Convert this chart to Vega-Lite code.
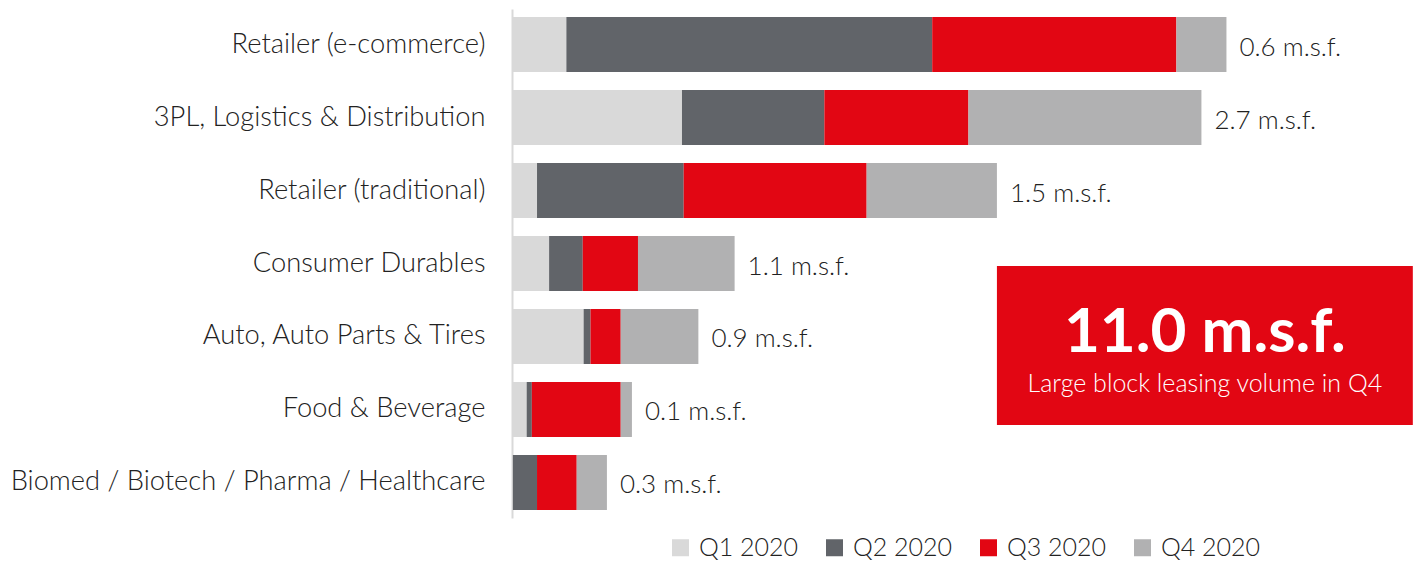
{
  "$schema": "https://vega.github.io/schema/vega-lite/v6.json",
  "width": 906,
  "height": 509,
  "padding": {"left": 10, "top": 9, "right": 0, "bottom": 0},
  "autosize": {"type": "pad"},
  "config": {"view": {"stroke": null}, "font": "Lato"},
  "datasets": {
    "bars": [
      {"sector": "Retailer (e-commerce)", "quarter": "Q1 2020", "value": 0.63, "label": "0.6 m.s.f."},
      {"sector": "Retailer (e-commerce)", "quarter": "Q2 2020", "value": 4.24, "label": "0.6 m.s.f."},
      {"sector": "Retailer (e-commerce)", "quarter": "Q3 2020", "value": 2.83, "label": "0.6 m.s.f."},
      {"sector": "Retailer (e-commerce)", "quarter": "Q4 2020", "value": 0.58, "label": "0.6 m.s.f."},
      {"sector": "3PL, Logistics & Distribution", "quarter": "Q1 2020", "value": 1.97, "label": "2.7 m.s.f."},
      {"sector": "3PL, Logistics & Distribution", "quarter": "Q2 2020", "value": 1.65, "label": "2.7 m.s.f."},
      {"sector": "3PL, Logistics & Distribution", "quarter": "Q3 2020", "value": 1.67, "label": "2.7 m.s.f."},
      {"sector": "3PL, Logistics & Distribution", "quarter": "Q4 2020", "value": 2.70, "label": "2.7 m.s.f."},
      {"sector": "Retailer (traditional)", "quarter": "Q1 2020", "value": 0.29, "label": "1.5 m.s.f."},
      {"sector": "Retailer (traditional)", "quarter": "Q2 2020", "value": 1.70, "label": "1.5 m.s.f."},
      {"sector": "Retailer (traditional)", "quarter": "Q3 2020", "value": 2.12, "label": "1.5 m.s.f."},
      {"sector": "Retailer (traditional)", "quarter": "Q4 2020", "value": 1.51, "label": "1.5 m.s.f."},
      {"sector": "Consumer Durables", "quarter": "Q1 2020", "value": 0.43, "label": "1.1 m.s.f."},
      {"sector": "Consumer Durables", "quarter": "Q2 2020", "value": 0.39, "label": "1.1 m.s.f."},
      {"sector": "Consumer Durables", "quarter": "Q3 2020", "value": 0.64, "label": "1.1 m.s.f."},
      {"sector": "Consumer Durables", "quarter": "Q4 2020", "value": 1.12, "label": "1.1 m.s.f."},
      {"sector": "Auto, Auto Parts & Tires", "quarter": "Q1 2020", "value": 0.83, "label": "0.9 m.s.f."},
      {"sector": "Auto, Auto Parts & Tires", "quarter": "Q2 2020", "value": 0.08, "label": "0.9 m.s.f."},
      {"sector": "Auto, Auto Parts & Tires", "quarter": "Q3 2020", "value": 0.35, "label": "0.9 m.s.f."},
      {"sector": "Auto, Auto Parts & Tires", "quarter": "Q4 2020", "value": 0.90, "label": "0.9 m.s.f."},
      {"sector": "Food & Beverage", "quarter": "Q1 2020", "value": 0.17, "label": "0.1 m.s.f."},
      {"sector": "Food & Beverage", "quarter": "Q2 2020", "value": 0.06, "label": "0.1 m.s.f."},
      {"sector": "Food & Beverage", "quarter": "Q3 2020", "value": 1.03, "label": "0.1 m.s.f."},
      {"sector": "Food & Beverage", "quarter": "Q4 2020", "value": 0.13, "label": "0.1 m.s.f."},
      {"sector": "Biomed / Biotech / Pharma / Healthcare", "quarter": "Q1 2020", "value": 0.01, "label": "0.3 m.s.f."},
      {"sector": "Biomed / Biotech / Pharma / Healthcare", "quarter": "Q2 2020", "value": 0.28, "label": "0.3 m.s.f."},
      {"sector": "Biomed / Biotech / Pharma / Healthcare", "quarter": "Q3 2020", "value": 0.46, "label": "0.3 m.s.f."},
      {"sector": "Biomed / Biotech / Pharma / Healthcare", "quarter": "Q4 2020", "value": 0.35, "label": "0.3 m.s.f."}
    ],
    "callout": [{"x": 5.62, "x2": 10.44, "y": 3.535, "y2": 5.72}],
    "callouttext": [
      {"x": 8.03, "y": 4.72, "text": "11.0 m.s.f.", "kind": "big"},
      {"x": 8.03, "y": 5.27, "text": "Large block leasing volume in Q4", "kind": "small"}
    ]
  },
  "layer": [
    {
      "layer": [
        {
          "data": {"name": "bars"},
          "mark": {"type": "bar"},
          "encoding": {
            "y": {
              "field": "sector", "type": "nominal",
              "sort": ["Retailer (e-commerce)", "3PL, Logistics & Distribution", "Retailer (traditional)", "Consumer Durables", "Auto, Auto Parts & Tires", "Food & Beverage", "Biomed / Biotech / Pharma / Healthcare"],
              "scale": {"paddingInner": 0.247, "paddingOuter": 0.11},
              "axis": {"title": null, "domain": true, "domainColor": "#d9d9d9", "domainWidth": 2, "ticks": false, "labelFontSize": 27.3, "labelFont": "Lato", "labelFontWeight": 300, "labelColor": "#222222", "labelPadding": 27, "labelLimit": 700}
            },
            "x": {"field": "value", "type": "quantitative", "stack": "zero", "scale": {"domain": [0, 10.5], "nice": false}, "axis": null},
            "color": {
              "field": "quarter", "type": "nominal",
              "scale": {"domain": ["Q1 2020", "Q2 2020", "Q3 2020", "Q4 2020"], "range": ["#d9d9d9", "#616469", "#e20613", "#b1b1b2"]},
              "legend": {"title": null, "orient": "none", "legendX": 156, "legendY": 526, "direction": "horizontal", "symbolType": "square", "symbolSize": 289, "symbolStrokeWidth": 0, "labelFontSize": 25, "labelFont": "Lato", "labelFontWeight": 300, "labelColor": "#222222", "columnPadding": 23, "labelOffset": 6}
            }
          }
        },
        {
          "data": {"name": "bars"},
          "transform": [{"aggregate": [{"op": "sum", "field": "value", "as": "total"}], "groupby": ["sector", "label"]}],
          "mark": {"type": "text", "align": "left", "baseline": "middle", "dx": 13, "dy": 3, "fontSize": 26, "fontWeight": 300, "font": "Lato", "color": "#222222"},
          "encoding": {
            "y": {"field": "sector", "type": "nominal", "sort": ["Retailer (e-commerce)", "3PL, Logistics & Distribution", "Retailer (traditional)", "Consumer Durables", "Auto, Auto Parts & Tires", "Food & Beverage", "Biomed / Biotech / Pharma / Healthcare"]},
            "x": {"field": "total", "type": "quantitative"},
            "text": {"field": "label"}
          }
        }
      ]
    },
    {
      "layer": [
        {
          "data": {"name": "callout"},
          "mark": {"type": "rect", "color": "#e20613"},
          "encoding": {
            "x": {"field": "x", "type": "quantitative"},
            "x2": {"field": "x2"},
            "y": {"field": "y", "type": "quantitative", "scale": {"domain": [0, 7], "reverse": true, "nice": false, "zero": false}, "axis": null},
            "y2": {"field": "y2"}
          }
        },
        {
          "data": {"name": "callouttext"},
          "transform": [{"filter": "datum.kind === 'big'"}],
          "mark": {"type": "text", "align": "center", "baseline": "alphabetic", "fontSize": 62, "fontWeight": "bold", "font": "Lato", "color": "#ffffff"},
          "encoding": {
            "x": {"field": "x", "type": "quantitative"},
            "y": {"field": "y", "type": "quantitative"},
            "text": {"field": "text"}
          }
        },
        {
          "data": {"name": "callouttext"},
          "transform": [{"filter": "datum.kind === 'small'"}],
          "mark": {"type": "text", "align": "center", "baseline": "alphabetic", "fontSize": 25, "fontWeight": 300, "font": "Lato", "color": "#ffffff"},
          "encoding": {
            "x": {"field": "x", "type": "quantitative"},
            "y": {"field": "y", "type": "quantitative"},
            "text": {"field": "text"}
          }
        }
      ]
    }
  ],
  "resolve": {"scale": {"y": "independent"}}
}
